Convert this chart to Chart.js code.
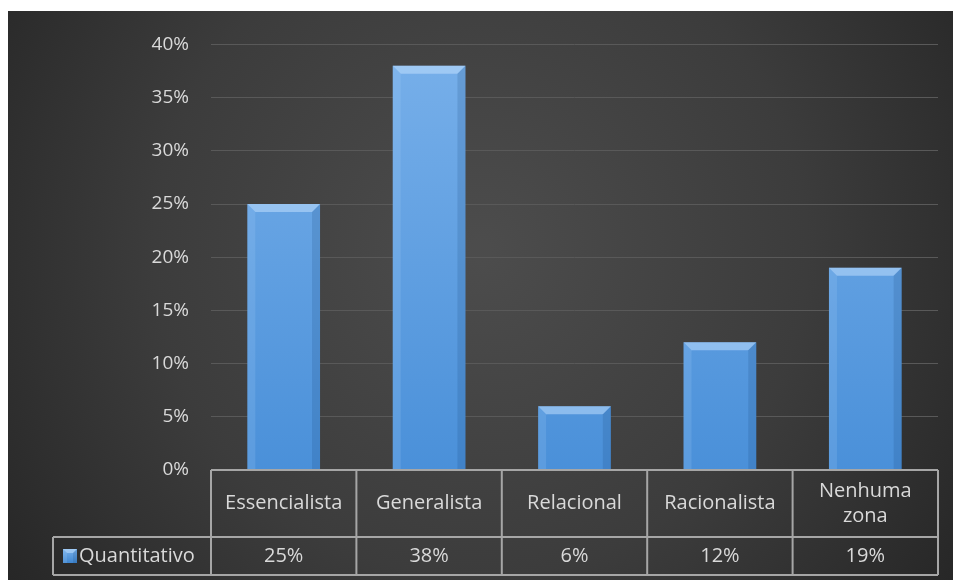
<!DOCTYPE html>
<html>
<head>
<meta charset="utf-8">
<script src="https://cdn.jsdelivr.net/npm/chart.js@4/dist/chart.umd.min.js"></script>
<style>
  body { margin: 0; background: #fff; }
  #wrap { position: absolute; left: 8px; top: 11px; width: 945px; height: 569px; }
</style>
</head>
<body>
<div id="wrap"><canvas id="myChart"></canvas></div>
<script>
// chart values
const categories = ['Essencialista', 'Generalista', 'Relacional', 'Racionalista', ['Nenhuma', 'zona']];
const seriesName = 'Quantitativo';
const seriesValues = [0.25, 0.38, 0.06, 0.12, 0.19];
const tickValues = [0, 0.05, 0.10, 0.15, 0.20, 0.25, 0.30, 0.35, 0.40];

const FONT = '"Open Sans", Lato, sans-serif';
const TEXT = '#d9d9d9';
const LINE = '#a6a6a6';

const pct = v => Math.round(v * 100) + '%';

// dark radial background
const backgroundPlugin = {
    id: 'bg',
    beforeDraw(chart) {
        const { ctx, width, height } = chart;
        const g = ctx.createRadialGradient(width * 0.5, height * 0.42, 10, width * 0.5, height * 0.42, width * 0.62);
        g.addColorStop(0, '#4c4c4c');
        g.addColorStop(0.55, '#3c3c3c');
        g.addColorStop(1, '#262626');
        ctx.save();
        ctx.fillStyle = g;
        ctx.fillRect(0, 0, width, height);
        ctx.restore();
    }
};

// bevel on each bar
function bevel(ctx, l, t, r, b, d) {
    ctx.fillStyle = 'rgba(200,228,255,0.5)';
    ctx.beginPath();
    ctx.moveTo(l, t); ctx.lineTo(r, t); ctx.lineTo(r - d, t + d); ctx.lineTo(l + d, t + d);
    ctx.closePath(); ctx.fill();
    ctx.fillStyle = 'rgba(170,210,250,0.18)';
    ctx.beginPath();
    ctx.moveTo(l, t); ctx.lineTo(l + d, t + d); ctx.lineTo(l + d, b); ctx.lineTo(l, b);
    ctx.closePath(); ctx.fill();
    ctx.fillStyle = 'rgba(20,60,110,0.16)';
    ctx.beginPath();
    ctx.moveTo(r, t); ctx.lineTo(r - d, t + d); ctx.lineTo(r - d, b); ctx.lineTo(r, b);
    ctx.closePath(); ctx.fill();
}

const bevelPlugin = {
    id: 'bevel',
    afterDatasetsDraw(chart) {
        const { ctx } = chart;
        chart.getDatasetMeta(0).data.forEach(bar => {
            const l = bar.x - bar.width / 2, r = bar.x + bar.width / 2;
            const d = Math.min(8, (bar.base - bar.y) / 2);
            ctx.save();
            bevel(ctx, l, bar.y, r, bar.base, d);
            ctx.restore();
        });
    }
};

// data table under the plot
const tablePlugin = {
    id: 'dataTable',
    afterDraw(chart) {
        const { ctx, chartArea } = chart;
        const xs = chart.scales.x;
        const n = categories.length;
        const cw = (chartArea.right - chartArea.left) / n;
        const top = chartArea.bottom;
        const mid = top + 67;
        const bot = mid + 38;
        const legendLeft = 45;
        ctx.save();
        ctx.strokeStyle = LINE;
        ctx.lineWidth = 2;
        ctx.beginPath();
        ctx.moveTo(chartArea.left, top); ctx.lineTo(chartArea.right, top);
        ctx.moveTo(legendLeft, mid); ctx.lineTo(chartArea.right, mid);
        ctx.moveTo(legendLeft, bot); ctx.lineTo(chartArea.right, bot);
        ctx.moveTo(legendLeft, mid); ctx.lineTo(legendLeft, bot);
        for (let i = 0; i <= n; i++) {
            const x = chartArea.left + i * cw;
            ctx.moveTo(x, top); ctx.lineTo(x, bot);
        }
        ctx.stroke();

        ctx.fillStyle = TEXT;
        ctx.font = '20px ' + FONT;
        ctx.textAlign = 'center';
        ctx.textBaseline = 'middle';
        categories.forEach((c, i) => {
            const x = xs.getPixelForTick(i);
            const lines = Array.isArray(c) ? c : [c];
            const lh = 25;
            const y0 = (top + mid) / 2 - (lines.length - 1) * lh / 2;
            lines.forEach((s, k) => ctx.fillText(s, x, y0 + k * lh));
            ctx.fillText(pct(seriesValues[i]), x, (mid + bot) / 2);
        });

        // legend key
        const kx = 55, ky = (mid + bot) / 2 - 7, ks = 14;
        const g = ctx.createLinearGradient(0, ky, 0, ky + ks);
        g.addColorStop(0, '#78b0ea'); g.addColorStop(1, '#3f86d0');
        ctx.fillStyle = g;
        ctx.fillRect(kx, ky, ks, ks);
        bevel(ctx, kx, ky, kx + ks, ky + ks, 4);
        ctx.fillStyle = TEXT;
        ctx.textAlign = 'left';
        ctx.fillText(seriesName, kx + ks + 2, (mid + bot) / 2);
        ctx.restore();
    }
};

function initChart() {
    const ctx = document.getElementById('myChart').getContext('2d');
    return new Chart(ctx, {
        type: 'bar',
        data: {
            labels: categories,
            datasets: [{
                label: seriesName,
                data: seriesValues,
                backgroundColor(context) {
                    const area = context.chart.chartArea;
                    if (!area) return '#5b9bd5';
                    const g = context.chart.ctx.createLinearGradient(0, area.top, 0, area.bottom);
                    g.addColorStop(0, '#78b0ea');
                    g.addColorStop(1, '#4a90d9');
                    return g;
                },
                borderWidth: 0,
                categoryPercentage: 1,
                barPercentage: 0.5,
            }],
        },
        options: {
            responsive: true,
            maintainAspectRatio: false,
            animation: false,
            layout: { padding: { top: 28, right: 15, bottom: 110, left: 0 } },
            plugins: {
                legend: { display: false },
                tooltip: { enabled: false }
            },
            scales: {
                x: { display: false },
                y: {
                    min: 0,
                    max: 0.4,
                    afterFit(scale) { scale.width = 203; },
                    afterBuildTicks(scale) { scale.ticks = tickValues.map(v => ({ value: v })); },
                    border: { display: false },
                    grid: { color: '#595959', lineWidth: 1, drawTicks: false },
                    ticks: {
                        color: TEXT,
                        padding: 22,
                        font: { family: FONT, size: 19 },
                        callback: v => pct(v)
                    }
                }
            }
        },
        plugins: [backgroundPlugin, bevelPlugin, tablePlugin]
    });
}

const chart = initChart();
</script>
</body>
</html>
